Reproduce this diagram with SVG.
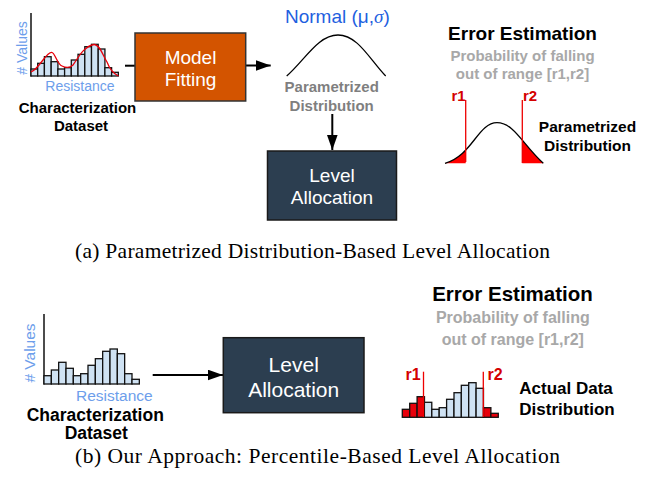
<svg xmlns="http://www.w3.org/2000/svg" width="650" height="485" viewBox="0 0 650 485">
<style>
.sans{font-family:"Liberation Sans",Arial,sans-serif}
.b{font-weight:bold}
.blue{fill:#6d9eeb}
.bar{fill:#cfe2f3;stroke:#111;stroke-width:1.3}
.rbar{fill:#e8000b;stroke:#111;stroke-width:1.3}
.axis{stroke:#111;stroke-width:1.5;fill:none}
.wt{fill:#fff;font-family:"Liberation Sans",Arial,sans-serif;text-anchor:middle}
.conn{stroke:#000;stroke-width:2;fill:none}
.rline{stroke:#e00;stroke-width:1.3}
.rtxt{fill:#d40000;font-family:"Liberation Sans",Arial,sans-serif;font-weight:bold}
.gray{fill:#7f7f7f}
.lgray{fill:#a8a8a8}
.cap{font-family:"Liberation Serif","Times New Roman",serif;fill:#000}
</style>
<defs>
<marker id="ah" markerUnits="userSpaceOnUse" markerWidth="16" markerHeight="12" refX="15" refY="5.3" orient="auto">
<path d="M0,0 L15,5.3 L0,10.6 Z" fill="#000"/>
</marker>
<clipPath id="tails"><rect x="440" y="90" width="25.7" height="80"/><rect x="522.3" y="90" width="30" height="80"/></clipPath>
</defs>
<rect width="650" height="485" fill="#fff"/>

<g id="connectors">
<line class="conn" x1="125" y1="65.7" x2="135" y2="65.7"/>
<line class="conn" x1="245.7" y1="65.5" x2="270.7" y2="65.5" marker-end="url(#ah)"/>
<line class="conn" x1="332.3" y1="114" x2="332.3" y2="150" marker-end="url(#ah)"/>
<line class="conn" x1="152.7" y1="375" x2="223" y2="375" marker-end="url(#ah)"/>
</g>

<g id="hist-top">
<line class="axis" x1="31" y1="13" x2="31" y2="76.5"/>
<rect class="bar" x="31" y="69" width="6.72" height="7"/>
<rect class="bar" x="37.7" y="63.3" width="6.72" height="12.7"/>
<rect class="bar" x="44.4" y="56.7" width="6.72" height="19.3"/>
<rect class="bar" x="51.2" y="61.7" width="6.72" height="14.3"/>
<rect class="bar" x="57.9" y="69" width="6.72" height="7"/>
<rect class="bar" x="64.6" y="67.7" width="6.72" height="8.3"/>
<rect class="bar" x="71.3" y="60" width="6.72" height="16"/>
<rect class="bar" x="78" y="54.3" width="6.72" height="21.7"/>
<rect class="bar" x="84.8" y="46.7" width="6.72" height="29.3"/>
<rect class="bar" x="91.5" y="44.3" width="6.72" height="31.7"/>
<rect class="bar" x="98.2" y="49" width="6.72" height="27"/>
<rect class="bar" x="104.9" y="67.7" width="6.72" height="8.3"/>
<rect class="bar" x="111.6" y="72.3" width="6.72" height="3.7"/>
<path d="M31,72 C40,68 46,52 51.7,52.3 C55,52.5 57,64 62,66 C66,68 70,68 73,65 C78,58 84,46 94,44.5 C100,44 103,56 107,62 C110,70 114,74 118.5,76" fill="none" stroke="#e8000b" stroke-width="1.3"/>
<text class="sans blue" font-size="14" text-anchor="middle" transform="translate(26.5,48) rotate(-90)"># Values</text>
<text class="sans blue" font-size="14" x="80" y="90.7" text-anchor="middle">Resistance</text>
<text class="sans b" font-size="15" x="77.5" y="113.3" text-anchor="middle">Characterization</text>
<text class="sans b" font-size="15" x="81" y="131" text-anchor="middle">Dataset</text>
</g>

<g id="model-fitting">
<rect x="135" y="33" width="110.7" height="68" fill="#d35400" stroke="#333" stroke-width="1.5"/>
<text class="wt" font-size="19" x="190.5" y="63.5">Model</text>
<text class="wt" font-size="19" x="190.5" y="85.5">Fitting</text>
</g>

<g id="normal-dist">
<text class="sans" font-size="19" x="285" y="23.3" fill="#1f5fe0">Normal (μ,<tspan font-family="'Liberation Serif',serif" font-style="italic">σ</tspan>)</text>
<path d="M286.7,76 C305,60 318,35 338,35 C358,35 370,60 385.7,76" fill="none" stroke="#000" stroke-width="1.3"/>
<text class="sans b gray" font-size="15" x="331.7" y="91.7" text-anchor="middle">Parametrized</text>
<text class="sans b gray" font-size="15" x="331.7" y="111" text-anchor="middle">Distribution</text>
</g>

<g id="level-allocation-top">
<rect x="267.5" y="151" width="129" height="69" fill="#2c3e50" stroke="#1a1a1a" stroke-width="1.5"/>
<text class="wt" font-size="19" x="332" y="182.3">Level</text>
<text class="wt" font-size="19" x="332" y="204">Allocation</text>
</g>

<g id="error-estimation-top">
<text class="sans b" font-size="19" x="522.5" y="40" text-anchor="middle">Error Estimation</text>
<text class="sans b lgray" font-size="15" x="522.5" y="60.7" text-anchor="middle">Probability of falling</text>
<text class="sans b lgray" font-size="15" x="522.5" y="79.3" text-anchor="middle">out of range [r1,r2]</text>
<path d="M445,163.3 C472,156 478,122.7 497,122.7 C514,122.7 523,145 543.3,163.3 Z" fill="#ff0000" clip-path="url(#tails)"/>
<path d="M445,163.3 C472,156 478,122.7 497,122.7 C514,122.7 523,145 543.3,163.3" fill="none" stroke="#000" stroke-width="1.3"/>
<line class="rline" x1="465.7" y1="100" x2="465.7" y2="162"/>
<line class="rline" x1="522.3" y1="100" x2="522.3" y2="163"/>
<text class="rtxt" font-size="15" x="451.5" y="100.7">r1</text>
<text class="rtxt" font-size="15" x="523" y="100.7">r2</text>
<text class="sans b" font-size="15.5" x="587.5" y="131.7" text-anchor="middle">Parametrized</text>
<text class="sans b" font-size="15.5" x="587.5" y="151" text-anchor="middle">Distribution</text>
</g>

<g id="caption-a">
<text class="cap" font-size="21.5" x="75" y="258" textLength="475" lengthAdjust="spacing">(a) Parametrized Distribution-Based Level Allocation</text>
</g>

<g id="hist-bottom">
<line class="axis" x1="44" y1="314" x2="44" y2="384.5"/>
<rect class="bar" x="44" y="375.7" width="7.33" height="8.3"/>
<rect class="bar" x="51.33" y="370" width="7.33" height="14"/>
<rect class="bar" x="58.67" y="362.3" width="7.33" height="21.7"/>
<rect class="bar" x="66" y="368.3" width="7.33" height="15.7"/>
<rect class="bar" x="73.33" y="375.7" width="7.33" height="8.3"/>
<rect class="bar" x="80.67" y="373.7" width="7.33" height="10.3"/>
<rect class="bar" x="88" y="365.3" width="7.33" height="18.7"/>
<rect class="bar" x="95.33" y="358.7" width="7.33" height="25.3"/>
<rect class="bar" x="102.67" y="351.3" width="7.33" height="32.7"/>
<rect class="bar" x="110" y="349" width="7.33" height="35"/>
<rect class="bar" x="117.33" y="353.7" width="7.33" height="30.3"/>
<rect class="bar" x="124.67" y="373.7" width="7.33" height="10.3"/>
<rect class="bar" x="132" y="379.3" width="7.33" height="4.7"/>
<text class="sans blue" font-size="15.5" text-anchor="middle" transform="translate(35,353) rotate(-90)"># Values</text>
<text class="sans blue" font-size="15.5" x="114.3" y="401" text-anchor="middle">Resistance</text>
<text class="sans b" font-size="17.5" x="95.3" y="420.5" text-anchor="middle">Characterization</text>
<text class="sans b" font-size="17.5" x="96.3" y="439.3" text-anchor="middle">Dataset</text>
</g>

<g id="level-allocation-bottom">
<rect x="223.3" y="337.7" width="140.7" height="75" fill="#2c3e50" stroke="#1a1a1a" stroke-width="1.5"/>
<text class="wt" font-size="21" x="293.7" y="371.7">Level</text>
<text class="wt" font-size="21" x="293.7" y="396.7">Allocation</text>
</g>

<g id="error-estimation-bottom">
<text class="sans b" font-size="20.5" x="512.5" y="300.7" text-anchor="middle">Error Estimation</text>
<text class="sans b lgray" font-size="16" x="512.8" y="322.5" text-anchor="middle">Probability of falling</text>
<text class="sans b lgray" font-size="16" x="512.8" y="344.5" text-anchor="middle">out of range [r1,r2]</text>
<rect class="rbar" x="402.3" y="409.3" width="7.38" height="8"/>
<rect class="rbar" x="409.7" y="403.3" width="7.38" height="14"/>
<rect class="rbar" x="417.1" y="396.7" width="7.38" height="20.6"/>
<rect class="bar" x="424.4" y="402.3" width="7.38" height="15"/>
<rect class="bar" x="431.8" y="409.3" width="7.38" height="8"/>
<rect class="bar" x="439.2" y="407.7" width="7.38" height="9.6"/>
<rect class="bar" x="446.6" y="399.3" width="7.38" height="18"/>
<rect class="bar" x="454" y="392.7" width="7.38" height="24.6"/>
<rect class="bar" x="461.3" y="385.3" width="7.38" height="32"/>
<rect class="bar" x="468.7" y="382.7" width="7.38" height="34.6"/>
<rect class="bar" x="476.1" y="388.3" width="7.38" height="29"/>
<rect class="rbar" x="483.5" y="407.7" width="7.38" height="9.6"/>
<rect class="rbar" x="490.9" y="413.3" width="7.38" height="4"/>
<line class="rline" x1="423.5" y1="371.7" x2="423.5" y2="417"/>
<line class="rline" x1="483.3" y1="371.7" x2="483.3" y2="417"/>
<text class="rtxt" font-size="16" x="405.5" y="380">r1</text>
<text class="rtxt" font-size="16" x="487.5" y="380">r2</text>
<text class="sans b" font-size="17" x="519.3" y="394">Actual Data</text>
<text class="sans b" font-size="17" x="519.3" y="415">Distribution</text>
</g>

<g id="caption-b">
<text class="cap" font-size="21.5" x="75" y="462.5" textLength="485" lengthAdjust="spacing">(b) Our Approach: Percentile-Based Level Allocation</text>
</g>
</svg>
